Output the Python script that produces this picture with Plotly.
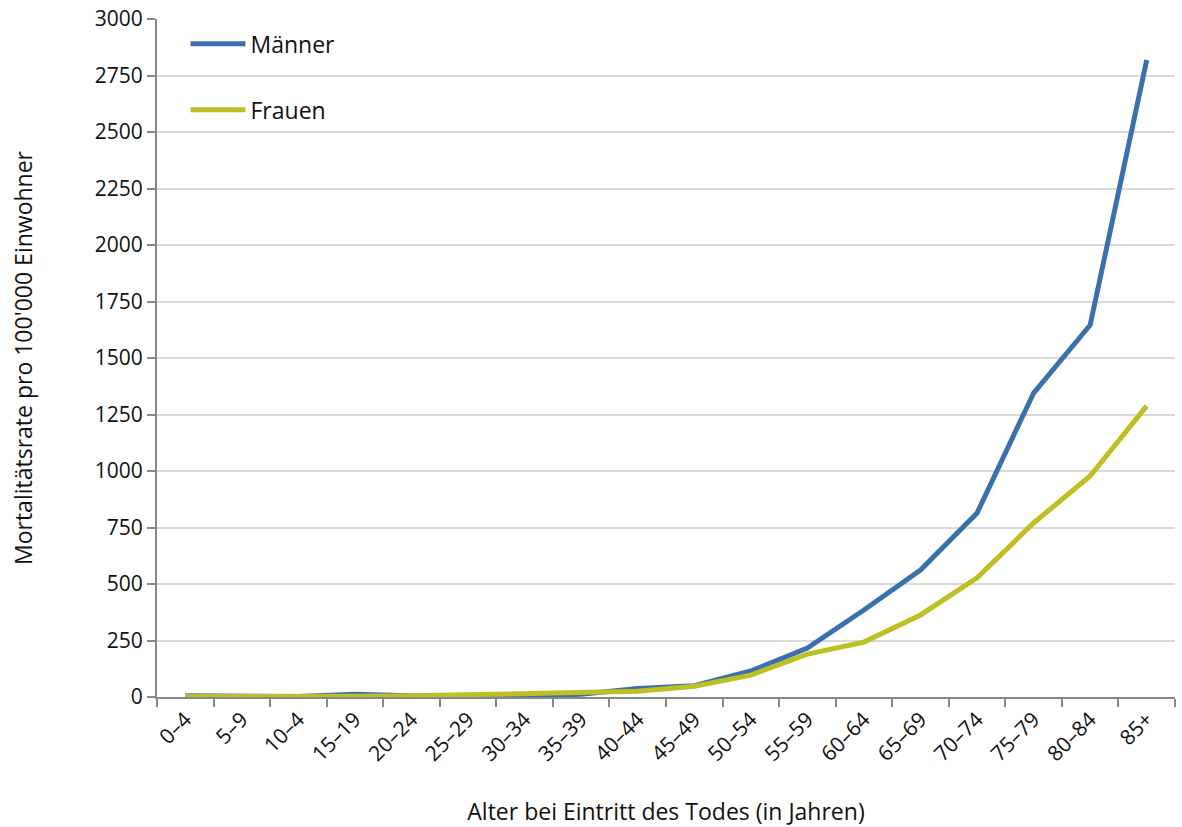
import plotly.graph_objects as go

# Age groups at death
age_groups = ["0–4", "5–9", "10–4", "15–19", "20–24", "25–29", "30–34", "35–39",
              "40–44", "45–49", "50–54", "55–59", "60–64", "65–69", "70–74",
              "75–79", "80–84", "85+"]

# Mortality rate per 100'000 inhabitants
maenner = [5, 1, 2, 12, 5, 6, 5, 12, 38, 50, 115, 217, 385, 562, 814, 1345, 1646, 2819]
frauen = [2, 1, 1, 3, 5, 10, 12, 22, 25, 48, 97, 190, 243, 363, 527, 770, 978, 1288]

y_ticks = list(range(0, 3001, 250))

FONT = "Open Sans"

fig = go.Figure()
fig.add_trace(go.Scatter(x=age_groups, y=maenner, name="Männer", mode="lines",
                         line=dict(color="#3A70AE", width=5), legendgroup="m"))
fig.add_trace(go.Scatter(x=age_groups, y=frauen, name="Frauen", mode="lines",
                         line=dict(color="#BDBF22", width=5), legendgroup="f"))

fig.update_layout(
    width=1182, height=827,
    margin=dict(l=157, r=7, t=19, b=130),
    paper_bgcolor="white", plot_bgcolor="white",
    font=dict(family=FONT, size=21, color="#111111"),
    showlegend=True,
    legend=dict(x=0.028, y=0.995, xanchor="left", yanchor="top",
                font=dict(size=23, family=FONT), tracegroupgap=33,
                itemwidth=55, bgcolor="rgba(0,0,0,0)"),
)
fig.update_xaxes(
    type="category", range=[-0.5, 17.5], tickson="boundaries",
    ticks="outside", ticklen=8, tickcolor="#888888", tickwidth=2,
    showline=True, linecolor="#888888", linewidth=2,
    showgrid=False, tickangle=-45, tickfont=dict(size=21), automargin="bottom",
    title=dict(text="Alter bei Eintritt des Todes (in Jahren)", font=dict(size=23), standoff=38),
)
fig.update_yaxes(
    range=[0, 3000], tickvals=y_ticks, ticks="outside", ticklen=8,
    tickcolor="#888888", tickwidth=2,
    showline=True, linecolor="#888888", linewidth=2,
    showgrid=True, gridcolor="#D9D9D9", gridwidth=2, zeroline=False,
    tickfont=dict(size=21), automargin="left",
    title=dict(text="Mortalitätsrate pro 100'000 Einwohner", font=dict(size=23), standoff=56),
)

fig.write_html("out.html")
